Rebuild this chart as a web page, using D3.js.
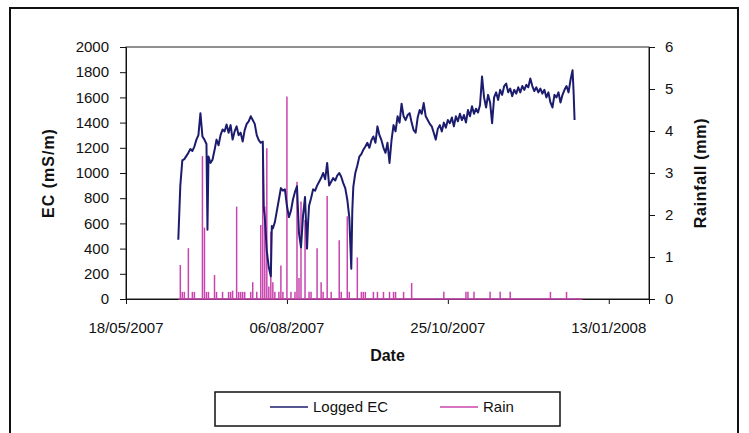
<!DOCTYPE html>
<html>
<head>
<meta charset="utf-8">
<script src="https://cdn.jsdelivr.net/npm/d3@7"></script>
<style>
  body { margin: 0; background: #fff; }
  text { font-family: "Liberation Sans", Arial, sans-serif; fill: #111; }
</style>
</head>
<body>
<div class="chart"></div>
<script>
const width = 749
const height = 433

// x axis: Excel style dates, 80 day major unit
const xTickLabels = ["18/05/2007", "06/08/2007", "25/10/2007", "13/01/2008"]
const xMax = "02/02/2008"
const ecTicks = [0, 200, 400, 600, 800, 1000, 1200, 1400, 1600, 1800, 2000]
const rainTicks = [0, 1, 2, 3, 4, 5, 6]

// logged EC (mS/m)
const ecDates = [
  "2007-06-13", "2007-06-14", "2007-06-15", "2007-06-16", "2007-06-18", "2007-06-19", "2007-06-20",
  "2007-06-21", "2007-06-22", "2007-06-23", "2007-06-24", "2007-06-25", "2007-06-26", "2007-06-27",
  "2007-06-27 12", "2007-06-28", "2007-06-29", "2007-06-30", "2007-07-01", "2007-07-02", "2007-07-03",
  "2007-07-04", "2007-07-05", "2007-07-06", "2007-07-07", "2007-07-08", "2007-07-09", "2007-07-10",
  "2007-07-11", "2007-07-12", "2007-07-13", "2007-07-14", "2007-07-15", "2007-07-16", "2007-07-17",
  "2007-07-18", "2007-07-19", "2007-07-20", "2007-07-21", "2007-07-22", "2007-07-23", "2007-07-24",
  "2007-07-25", "2007-07-25 12", "2007-07-26", "2007-07-27", "2007-07-28", "2007-07-29", "2007-07-29 12",
  "2007-07-30", "2007-07-31", "2007-08-01", "2007-08-02", "2007-08-03", "2007-08-04", "2007-08-05",
  "2007-08-06", "2007-08-07", "2007-08-08", "2007-08-09", "2007-08-10", "2007-08-11", "2007-08-12",
  "2007-08-13", "2007-08-14", "2007-08-15", "2007-08-16", "2007-08-16 12", "2007-08-17", "2007-08-18",
  "2007-08-19", "2007-08-20", "2007-08-21", "2007-08-22", "2007-08-23", "2007-08-24", "2007-08-25",
  "2007-08-26", "2007-08-27", "2007-08-28", "2007-08-29", "2007-08-30", "2007-08-31", "2007-09-01",
  "2007-09-02", "2007-09-03", "2007-09-04", "2007-09-05", "2007-09-06", "2007-09-07", "2007-09-07 12",
  "2007-09-08", "2007-09-09", "2007-09-10", "2007-09-11", "2007-09-12", "2007-09-13", "2007-09-14",
  "2007-09-15", "2007-09-16", "2007-09-17", "2007-09-18", "2007-09-19", "2007-09-20", "2007-09-21",
  "2007-09-22", "2007-09-23", "2007-09-24", "2007-09-25", "2007-09-26", "2007-09-27", "2007-09-28",
  "2007-09-29", "2007-09-30", "2007-10-01", "2007-10-02", "2007-10-03", "2007-10-04", "2007-10-05",
  "2007-10-06", "2007-10-07", "2007-10-08", "2007-10-09", "2007-10-10", "2007-10-11", "2007-10-12",
  "2007-10-13", "2007-10-14", "2007-10-15", "2007-10-16", "2007-10-17", "2007-10-18", "2007-10-19",
  "2007-10-20", "2007-10-21", "2007-10-22", "2007-10-23", "2007-10-24", "2007-10-25", "2007-10-26",
  "2007-10-27", "2007-10-28", "2007-10-29", "2007-10-30", "2007-10-31", "2007-11-01", "2007-11-02",
  "2007-11-03", "2007-11-04", "2007-11-05", "2007-11-06", "2007-11-07", "2007-11-08", "2007-11-09",
  "2007-11-10", "2007-11-11", "2007-11-12", "2007-11-13", "2007-11-14", "2007-11-15", "2007-11-16",
  "2007-11-17", "2007-11-18", "2007-11-19", "2007-11-20", "2007-11-21", "2007-11-22", "2007-11-23",
  "2007-11-24", "2007-11-25", "2007-11-26", "2007-11-27", "2007-11-28", "2007-11-29", "2007-11-30",
  "2007-12-01", "2007-12-02", "2007-12-03", "2007-12-04", "2007-12-05", "2007-12-06", "2007-12-07",
  "2007-12-08", "2007-12-09", "2007-12-10", "2007-12-11", "2007-12-12", "2007-12-13", "2007-12-14",
  "2007-12-15", "2007-12-16", "2007-12-17", "2007-12-18", "2007-12-19", "2007-12-20", "2007-12-21",
  "2007-12-22", "2007-12-23", "2007-12-24", "2007-12-25", "2007-12-26", "2007-12-26 12", "2007-12-27"
]
const ecValues = [
  470, 900, 1100, 1110, 1160, 1190, 1175,
  1210, 1265, 1300, 1475, 1290, 1265, 1230,
  550, 1130, 1080, 1105, 1180, 1265, 1220,
  1300, 1345, 1330, 1385, 1320, 1380, 1265,
  1330, 1370, 1300, 1320, 1250, 1340, 1390,
  1410, 1450, 1420, 1390, 1300, 1260, 1240,
  1250, 720, 650, 380, 250, 180, 580,
  560, 610, 700, 790, 880, 860, 870,
  740, 650, 700, 790, 850, 895, 520,
  410, 660, 810, 400, 600, 740, 800,
  870, 860, 900, 930, 960, 1000, 950,
  1080, 900, 930, 960, 940, 980, 1000,
  970, 920, 880, 790, 650, 240, 700,
  890, 1000, 1060, 1130, 1150, 1185, 1210,
  1240, 1200, 1260, 1290, 1240, 1370, 1300,
  1260, 1200, 1160, 1240, 1080, 1260, 1380,
  1330, 1450, 1400, 1550, 1450, 1420, 1460,
  1475, 1400, 1340, 1320, 1440, 1500, 1470,
  1555, 1450, 1420, 1390, 1370, 1320, 1265,
  1350, 1380, 1330, 1400, 1360, 1420, 1395,
  1440, 1370, 1450, 1410, 1470, 1420, 1460,
  1400, 1500, 1450, 1530, 1470, 1510, 1480,
  1540, 1765, 1600, 1520, 1620, 1560, 1395,
  1600, 1640, 1580, 1660, 1620, 1690, 1710,
  1640, 1670, 1610, 1660, 1630, 1680, 1640,
  1690, 1660, 1700, 1680, 1750, 1690, 1650,
  1680, 1640, 1670, 1630, 1660, 1600, 1640,
  1560, 1520, 1620, 1600, 1640, 1560, 1620,
  1660, 1690, 1640, 1740, 1815, 1650, 1420
]

// daily rainfall (mm); days not listed had none
const rainDates = [
  "2007-06-13", "2007-06-14", "2007-06-15", "2007-06-16", "2007-06-18", "2007-06-20", "2007-06-21",
  "2007-06-25", "2007-06-26", "2007-06-27", "2007-06-28", "2007-07-01", "2007-07-02", "2007-07-05",
  "2007-07-08", "2007-07-09", "2007-07-10", "2007-07-12", "2007-07-13", "2007-07-14", "2007-07-15",
  "2007-07-16", "2007-07-19", "2007-07-20", "2007-07-22", "2007-07-24", "2007-07-25", "2007-07-26",
  "2007-07-27", "2007-07-28", "2007-07-29", "2007-07-30", "2007-07-31", "2007-08-02", "2007-08-03",
  "2007-08-04", "2007-08-06", "2007-08-08", "2007-08-10", "2007-08-11", "2007-08-12", "2007-08-13",
  "2007-08-15", "2007-08-17", "2007-08-18", "2007-08-21", "2007-08-23", "2007-08-24", "2007-08-26",
  "2007-08-28", "2007-09-01", "2007-09-02", "2007-09-05", "2007-09-06", "2007-09-10", "2007-09-12",
  "2007-09-13", "2007-09-14", "2007-09-18", "2007-09-20", "2007-09-23", "2007-09-26", "2007-09-28",
  "2007-09-29", "2007-10-03", "2007-10-07", "2007-10-23", "2007-11-03", "2007-11-04", "2007-11-07",
  "2007-11-15", "2007-11-20", "2007-11-25", "2007-12-15", "2007-12-23", "2007-12-31"
]
const rainValues = [
  0, 0.81, 0.17, 0.17, 1.21, 0.17, 0.17,
  3.40, 1.70, 0.17, 0.17, 0.57, 0.17, 0.17,
  0.17, 0.17, 0.20, 2.20, 0.17, 0.17, 0.17,
  0.17, 0.17, 0.40, 0.17, 1.76, 3.63, 2.20,
  3.59, 0.30, 1.60, 0.40, 0.17, 0.17, 0.80,
  0.17, 4.82, 0.17, 0.17, 2.79, 0.50, 2.32,
  1.88, 0.17, 0.17, 1.21, 0.40, 0.17, 2.45,
  0.17, 1.40, 0.17, 1.97, 0.17, 0.99, 0.17,
  0.17, 0.17, 0.17, 0.17, 0.17, 0.17, 0.17,
  0.17, 0.17, 0.38, 0.17, 0.17, 0.17, 0.17,
  0.17, 0.17, 0.17, 0.17, 0.17, 0
]

const parseDay = d3.timeParse("%Y-%m-%d")
const parseHour = d3.timeParse("%Y-%m-%d %H")
const parseDate = s => parseHour(s) || parseDay(s)
const parseTick = d3.timeParse("%d/%m/%Y")

const ec = ecDates.map((d, i) => ({date: parseDate(d), value: ecValues[i]}))
const rain = rainDates.map((d, i) => ({date: parseDate(d), mm: rainValues[i]}))

const margin = {top: 47, right: 100, bottom: 134, left: 126}
const innerWidth = width - margin.left - margin.right
const innerHeight = height - margin.top - margin.bottom

const ecColor = "#1c1c6e"
const rainColor = "#c944ae"
const ink = "#111"

const svg = d3.select(".chart")
    .append("svg")
    .attr("width", width)
    .attr("height", height)

// outer chart frame (runs off the bottom of the picture)
svg.append("path")
    .attr("d", `M10,${height} V8 H738 V${height}`)
    .attr("fill", "none")
    .attr("stroke", ink)
    .attr("stroke-width", 2)

const xScale = d3.scaleTime()
    .domain([parseTick(xTickLabels[0]), parseTick(xMax)])
    .range([0, innerWidth])

const yScale = d3.scaleLinear()
    .domain([0, 2000])
    .range([innerHeight, 0])

const yRain = d3.scaleLinear()
    .domain([0, 6])
    .range([innerHeight, 0])

const g = svg.append("g")
    .attr("transform", `translate(${margin.left}, ${margin.top})`)

g.append("rect")
    .attr("width", innerWidth)
    .attr("height", innerHeight)
    .attr("fill", "none")
    .attr("stroke", "#222")
    .attr("stroke-width", 1)

// axes: lines and ticks from d3, labels written below
g.append("g")
    .call(d3.axisLeft(yScale).tickValues(ecTicks).tickSize(6).tickFormat(""))
g.append("g")
    .attr("transform", `translate(${innerWidth}, 0)`)
    .call(d3.axisRight(yRain).tickValues(rainTicks).tickSize(6).tickFormat(""))
g.append("g")
    .attr("transform", `translate(0, ${innerHeight})`)
    .call(d3.axisBottom(xScale).tickValues(xTickLabels.map(parseTick)).tickSize(5).tickFormat(""))

g.selectAll(".domain, .tick line")
    .attr("stroke", ink)

g.selectAll(".ecLabel")
    .data(ecTicks)
    .enter().append("text")
        .attr("x", -17)
        .attr("y", d => yScale(d))
        .attr("dy", "0.35em")
        .attr("text-anchor", "end")
        .style("font-size", "15px")
        .text(d => d)

g.selectAll(".rainLabel")
    .data(rainTicks)
    .enter().append("text")
        .attr("x", innerWidth + 16)
        .attr("y", d => yRain(d))
        .attr("dy", "0.35em")
        .style("font-size", "15px")
        .text(d => d)

g.selectAll(".dateLabel")
    .data(xTickLabels)
    .enter().append("text")
        .attr("x", d => xScale(parseTick(d)))
        .attr("y", innerHeight + 34)
        .attr("text-anchor", "middle")
        .style("font-size", "15px")
        .text(d => d)

// rain: baseline plus one spike per day
g.append("line")
    .attr("x1", xScale(d3.min(rain, d => d.date)))
    .attr("x2", xScale(d3.max(rain, d => d.date)))
    .attr("y1", yRain(0))
    .attr("y2", yRain(0))
    .attr("stroke", rainColor)
    .attr("stroke-width", 1.6)

g.selectAll(".rain")
    .data(rain.filter(d => d.mm > 0))
    .enter().append("line")
        .attr("class", "rain")
        .attr("x1", d => xScale(d.date))
        .attr("x2", d => xScale(d.date))
        .attr("y1", yRain(0))
        .attr("y2", d => yRain(d.mm))
        .attr("stroke", rainColor)
        .attr("stroke-width", 1.5)

const ecLine = d3.line()
    .x(d => xScale(d.date))
    .y(d => yScale(d.value))

g.append("path")
    .datum(ec)
    .attr("d", ecLine)
    .attr("fill", "none")
    .attr("stroke", ecColor)
    .attr("stroke-width", 2)
    .attr("stroke-linejoin", "round")

// axis titles
g.append("text")
    .attr("transform", `translate(${48 - margin.left}, ${innerHeight / 2}) rotate(-90)`)
    .attr("text-anchor", "middle")
    .attr("dy", "0.35em")
    .style("font-size", "16px")
    .style("font-weight", "bold")
    .style("letter-spacing", "1px")
    .text("EC (mS/m)")

g.append("text")
    .attr("transform", `translate(${700 - margin.left}, ${innerHeight / 2}) rotate(-90)`)
    .attr("text-anchor", "middle")
    .attr("dy", "0.35em")
    .style("font-size", "16px")
    .style("font-weight", "bold")
    .style("letter-spacing", "0.7px")
    .text("Rainfall (mm)")

g.append("text")
    .attr("x", innerWidth / 2)
    .attr("y", innerHeight + 62)
    .attr("text-anchor", "middle")
    .style("font-size", "16px")
    .style("font-weight", "bold")
    .text("Date")

// legend
const legend = svg.append("g")
    .attr("transform", "translate(215, 392)")

legend.append("rect")
    .attr("width", 345)
    .attr("height", 34)
    .attr("fill", "#fff")
    .attr("stroke", ink)
    .attr("stroke-width", 1.5)

const legendItems = [
    {label: "Logged EC", color: ecColor, x: 55},
    {label: "Rain", color: rainColor, x: 225}
]

legend.selectAll(".item")
    .data(legendItems)
    .enter().append("line")
        .attr("x1", d => d.x)
        .attr("x2", d => d.x + 38)
        .attr("y1", 15)
        .attr("y2", 15)
        .attr("stroke", d => d.color)
        .attr("stroke-width", 1.6)

legend.selectAll(".label")
    .data(legendItems)
    .enter().append("text")
        .attr("x", d => d.x + 43)
        .attr("y", 15)
        .attr("dy", "0.35em")
        .style("font-size", "15px")
        .text(d => d.label)
</script>
</body>
</html>
